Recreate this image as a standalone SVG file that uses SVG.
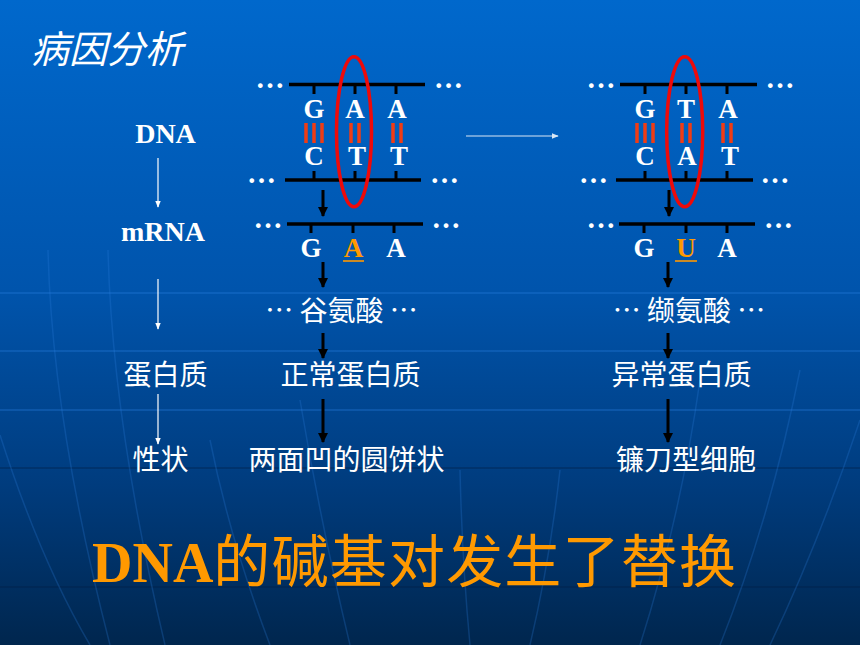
<svg xmlns="http://www.w3.org/2000/svg" width="860" height="645" viewBox="0 0 860 645">
<defs>
<linearGradient id="bg" x1="0" y1="0" x2="0" y2="1">
<stop offset="0" stop-color="#0068cc"/>
<stop offset="0.45" stop-color="#0054ac"/>
<stop offset="0.75" stop-color="#003c7e"/>
<stop offset="1" stop-color="#00264e"/>
</linearGradient>
<marker id="ab" viewBox="0 0 10 10" refX="9" refY="5" markerWidth="3.4" markerHeight="3.4" markerUnits="strokeWidth" orient="auto">
<path d="M0,0 L10,5 L0,10 z" fill="#000"/>
</marker>
<marker id="aw" viewBox="0 0 10 10" refX="9" refY="5" markerWidth="6" markerHeight="6" markerUnits="strokeWidth" orient="auto">
<path d="M0,1 L10,5 L0,9 z" fill="#ffffff"/>
</marker>
</defs>
<style>
.strand{stroke:#000;stroke-width:3.5;fill:none}
.tick{stroke:#000;stroke-width:3;fill:none}
.bar{stroke:#f03c14;stroke-width:3.5}
.ring{fill:none;stroke:#ee0a0a;stroke-width:3.5}
.base{font-family:"Liberation Serif","Times New Roman",serif;font-weight:bold;font-size:27px;fill:#fff;text-anchor:middle}
.mut{fill:#ff9900}
.dots{font-family:"Liberation Serif","Times New Roman",serif;font-weight:bold;font-size:29px;fill:#fff;text-anchor:middle}
.lab{font-family:"Liberation Serif","Times New Roman",serif;font-weight:bold;font-size:28px;fill:#fff;text-anchor:middle}
.cn{font-family:"Noto Sans CJK SC","Noto Sans CJK TC",sans-serif;font-size:28px;fill:#fff;text-anchor:middle}
.barr{stroke:#000;stroke-width:3;marker-end:url(#ab)}
.warr{stroke:#fff;stroke-width:1.2;marker-end:url(#aw)}
.grid{fill:none;stroke-width:1.5}
</style>
<rect x="0" y="0" width="860" height="645" fill="url(#bg)"/>
<g id="background-grid">
<path class="grid" d="M0,293 H860 M0,351 H860 M0,410 H860" stroke="#2a80e0" opacity="0.4"/>
<path class="grid" d="M0,468 H860 M0,587 H860" stroke="#002044" opacity="0.45"/>
<path class="grid" d="M48,250 Q52,420 110,645 M108,250 Q112,420 165,645 M0,435 Q40,560 90,645 M300,400 Q320,520 350,645 M210,440 Q230,540 270,645 M460,470 Q462,560 470,645 M560,470 Q550,560 530,645 M700,380 Q680,520 640,645 M800,370 Q770,520 720,645 M860,420 Q820,540 770,645" stroke="#2a80e0" opacity="0.25"/>
</g>
<g id="title"><text x="31" y="63" font-family="Noto Sans CJK SC,sans-serif" font-size="38" font-style="italic" fill="#fff">病因分析</text></g>
<g id="label-dna"><text class="lab" x="165.5" y="143">DNA</text></g>
<g id="label-mrna"><text class="lab" x="163" y="241">mRNA</text></g>
<g id="label-protein"><text class="cn" x="165.5" y="385">蛋白质</text></g>
<g id="label-trait"><text class="cn" x="160.5" y="470">性状</text></g>
<g id="normal-dna">
<text class="dots" x="270" y="88">…</text><text class="dots" x="448.5" y="88">…</text>
<text class="dots" x="261.5" y="183">…</text><text class="dots" x="444.5" y="183">…</text>
<path class="strand" d="M289,84.5 H425 M285,180 H421"/>
<path class="tick" d="M314,84 V94 M355,84 V94 M396,84 V94 M314,171 V180 M355,171 V180 M396,171 V180"/>
<text class="base" x="314" y="117.5">G</text><text class="base" x="355" y="117.5">A</text><text class="base" x="397" y="117.5">A</text>
<path class="bar" d="M306,123 V143 M314,123 V143 M322,123 V143 M351,123 V143 M359,123 V143 M393,123 V143 M401,123 V143"/>
<text class="base" x="314" y="165">C</text><text class="base" x="357" y="165">T</text><text class="base" x="399" y="165">T</text>
<ellipse class="ring" cx="354" cy="131.7" rx="17.5" ry="75"/>
</g>
<g id="normal-mrna">
<text class="dots" x="268" y="227.5">…</text><text class="dots" x="446" y="227.5">…</text>
<path class="strand" d="M287,224 H423"/>
<path class="tick" d="M311,224 V233 M353,224 V233 M394,224 V233"/>
<text class="base" x="311" y="256.5">G</text><text class="base mut" x="353.5" y="256.5">A</text><text class="base" x="396" y="256.5">A</text>
<path d="M343,261 H364" stroke="#ff9900" stroke-width="1.6"/>
</g>
<g id="normal-aa"><text class="cn" x="341.5" y="321">… 谷氨酸 …</text></g>
<g id="normal-protein"><text class="cn" x="350.5" y="385">正常蛋白质</text></g>
<g id="normal-trait"><text class="cn" x="346.5" y="470">两面凹的圆饼状</text></g>
<g id="mutant-dna">
<text class="dots" x="601" y="88">…</text><text class="dots" x="780" y="88">…</text>
<text class="dots" x="593.5" y="183">…</text><text class="dots" x="775" y="183">…</text>
<path class="strand" d="M620,84.5 H757 M616,180 H753"/>
<path class="tick" d="M645,84 V94 M686,84 V94 M727,84 V94 M645,171 V180 M686,171 V180 M727,171 V180"/>
<text class="base" x="645" y="117.5">G</text><text class="base" x="686" y="117.5">T</text><text class="base" x="728" y="117.5">A</text>
<path class="bar" d="M637,123 V143 M645,123 V143 M653,123 V143 M682,123 V143 M690,123 V143 M723,123 V143 M731,123 V143"/>
<text class="base" x="645" y="165">C</text><text class="base" x="687" y="165">A</text><text class="base" x="730" y="165">T</text>
<ellipse class="ring" cx="684.7" cy="131.7" rx="18" ry="75"/>
</g>
<g id="mutant-mrna">
<text class="dots" x="601" y="227.5">…</text><text class="dots" x="778.5" y="227.5">…</text>
<path class="strand" d="M619,224 H755"/>
<path class="tick" d="M644,224 V233 M686,224 V233 M727,224 V233"/>
<text class="base" x="644" y="256.5">G</text><text class="base mut" x="686" y="256.5">U</text><text class="base" x="727" y="256.5">A</text>
<path d="M675,261 H697" stroke="#ff9900" stroke-width="1.6"/>
</g>
<g id="mutant-aa"><text class="cn" x="689" y="321">… 缬氨酸 …</text></g>
<g id="mutant-protein"><text class="cn" x="681.5" y="385">异常蛋白质</text></g>
<g id="mutant-trait"><text class="cn" x="686" y="470">镰刀型细胞</text></g>
<g id="conclusion"><text y="582" fill="#ff9900"><tspan x="92" font-family="Liberation Serif,serif" font-weight="bold" font-size="56">DNA</tspan><tspan font-family="Noto Sans CJK SC,sans-serif" font-size="57" letter-spacing="1.2">的碱基对发生了替换</tspan></text></g>
<g id="connectors">
<line class="warr" x1="158" y1="158" x2="158" y2="207"/>
<line class="warr" x1="158" y1="279" x2="158" y2="329"/>
<line class="warr" x1="158" y1="394" x2="158" y2="444"/>
<line class="warr" x1="466" y1="136" x2="558" y2="136" opacity="0.85"/>
<line class="barr" x1="323" y1="190" x2="323" y2="216"/>
<line class="barr" x1="323" y1="262" x2="323" y2="287"/>
<line class="barr" x1="323" y1="333" x2="323" y2="358"/>
<line class="barr" x1="323" y1="399" x2="323" y2="442"/>
<line class="barr" x1="669" y1="190" x2="669" y2="216"/>
<line class="barr" x1="668" y1="262" x2="668" y2="287"/>
<line class="barr" x1="668" y1="333" x2="668" y2="358"/>
<line class="barr" x1="668" y1="399" x2="668" y2="442"/>
</g>
</svg>
